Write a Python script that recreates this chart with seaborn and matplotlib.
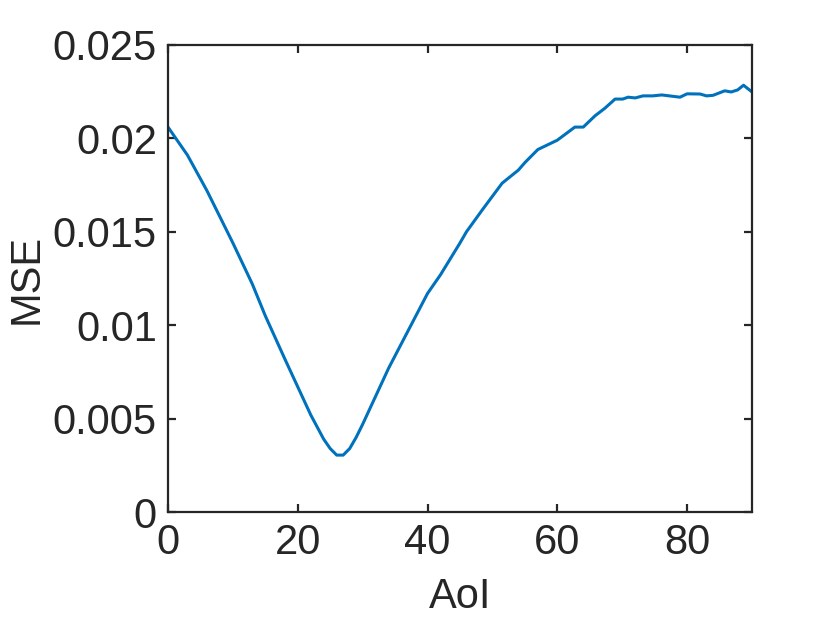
import numpy as np
import pandas as pd
import matplotlib.pyplot as plt
import seaborn as sns

aoi = [0, 3, 6, 10, 13, 15, 18, 20, 22, 24, 25, 26, 27, 28, 29, 30, 32, 34, 37, 40,
       42, 45, 46, 48.5, 51.5, 54, 55, 57, 60, 62.7, 64, 65.8, 67.3, 68.9, 70.1, 70.9,
       72, 73.2, 74.7, 76.1, 78.9, 80, 82, 83, 84, 85.8, 86.8, 87.8, 88.7, 90]
mse = [0.0206, 0.0191, 0.0172, 0.0144, 0.0122, 0.0105, 0.0082, 0.0067, 0.0052, 0.0039,
       0.0034, 0.00305, 0.00305, 0.0034, 0.0040, 0.0047, 0.0062, 0.0077, 0.0097, 0.0117,
       0.0127, 0.0144, 0.0150, 0.0162, 0.0176, 0.0183, 0.0187, 0.0194, 0.0199, 0.0206,
       0.0206, 0.0212, 0.0216, 0.0221, 0.0221, 0.0222, 0.02216, 0.02227, 0.02227, 0.02232,
       0.0222, 0.02238, 0.02237, 0.02227, 0.0223, 0.02254, 0.02248, 0.02259, 0.02284, 0.02248]

df = pd.DataFrame({'AoI': aoi, 'MSE': mse})

sns.set_style('ticks')
plt.rcParams['font.family'] = ['Liberation Sans', 'DejaVu Sans']

fig = plt.figure(figsize=(8.3, 6.23), dpi=100)
ax = fig.add_axes([0.2024, 0.178, 0.7036, 0.75])
sns.lineplot(data=df, x='AoI', y='MSE', ax=ax, color='#0072BD', linewidth=2.2)

ax.set_xlim(0, 90)
ax.set_ylim(0, 0.025)
ax.set_xticks([0, 20, 40, 60, 80])
ax.set_yticks([0, 0.005, 0.01, 0.015, 0.02, 0.025])
ax.set_yticklabels(['0', '0.005', '0.01', '0.015', '0.02', '0.025'])

dark = '#262626'
for s in ax.spines.values():
    s.set_visible(True)
    s.set_color(dark)
    s.set_linewidth(1.6)
ax.tick_params(direction='in', length=6, width=1.6, colors=dark, labelsize=30,
               top=True, right=True, pad=8)
ax.set_xlabel('AoI', fontsize=30, color=dark, labelpad=10)
ax.set_ylabel('MSE', fontsize=30, color=dark, labelpad=4)

fig.savefig('out.png', dpi=100)
